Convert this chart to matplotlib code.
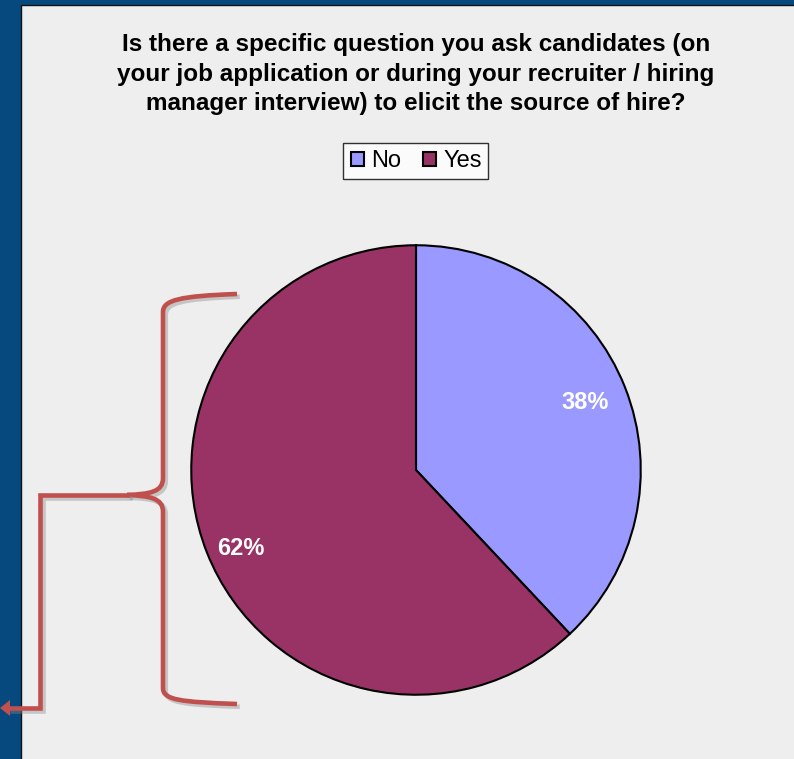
import numpy as np
import matplotlib.pyplot as plt
from matplotlib.patches import Patch, Rectangle, Polygon, PathPatch
from matplotlib.path import Path
import matplotlib.patheffects as pe

plt.rcParams['font.family'] = ['Liberation Sans', 'DejaVu Sans']

labels = ['No', 'Yes']
shares = [38, 62]
colors = ['#9999FF', '#993366']
title = ('Is there a specific question you ask candidates (on\n'
         'your job application or during your recruiter / hiring\n'
         'manager interview) to elicit the source of hire?')

W, H = 794, 759
fig = plt.figure(figsize=(W / 100, H / 100), dpi=100)
fig.patch.set_facecolor('#06497F')

# background layer in pixel coordinates
bg = fig.add_axes([0, 0, 1, 1])
bg.set_xlim(0, W)
bg.set_ylim(H, 0)
bg.axis('off')
bg.add_patch(Rectangle((21, 5), W, H, facecolor='#EEEEEE', edgecolor='#111111', linewidth=1))

bg.text(416, 74, title, ha='center', va='center', fontsize=17.5, fontweight='bold',
        linespacing=1.34, color='black')

# bracket pointing at the pie
red = '#C0504D'
shadow = [pe.SimpleLineShadow(offset=(2, -2), shadow_color='#888888', alpha=0.4), pe.Normal()]
verts = [(237, 294), (180, 296), (163, 300), (163, 312),
         (163, 478),
         (163, 492), (150, 494), (127, 495),
         (150, 496), (163, 498), (163, 512),
         (163, 688),
         (163, 700), (180, 702), (237, 704)]
codes = [Path.MOVETO, Path.CURVE4, Path.CURVE4, Path.CURVE4,
         Path.LINETO,
         Path.CURVE4, Path.CURVE4, Path.CURVE4,
         Path.CURVE4, Path.CURVE4, Path.CURVE4,
         Path.LINETO,
         Path.CURVE4, Path.CURVE4, Path.CURVE4]
bg.add_patch(PathPatch(Path(verts, codes), facecolor='none', edgecolor=red, linewidth=3.3,
                       capstyle='butt', path_effects=shadow))
bg.plot([127, 40, 40, 9], [495, 495, 708, 708], color=red, linewidth=3.3,
        solid_joinstyle='miter', path_effects=shadow)
bg.add_patch(Polygon([(0, 708), (10, 700), (10, 716)], closed=True, facecolor=red, edgecolor='none'))

# pie
ax = fig.add_axes([189 / W, (H - 697) / H, 454 / W, 454 / H])
wedges, _, autotexts = ax.pie(shares, colors=colors, startangle=90, counterclock=False,
                              autopct='%d%%', pctdistance=0.8,
                              wedgeprops=dict(edgecolor='black', linewidth=1.5))
# label radii per slice
for w, t, r, dy in zip(wedges, autotexts, [0.81, 0.84], [0.0, -0.04]):
    ang = np.deg2rad((w.theta1 + w.theta2) / 2)
    t.set_position((r * np.cos(ang), r * np.sin(ang) + dy))
    t.set_color('white')
    t.set_fontsize(17)
    t.set_fontweight('bold')
ax.set_xlim(-1.01, 1.01)
ax.set_ylim(-1.01, 1.01)

handles = [Patch(facecolor=c, edgecolor='black', linewidth=1.5) for c in colors]
leg = fig.legend(handles, labels, loc='center', bbox_to_anchor=(415.5 / W, 1 - 161 / H),
                 ncol=2, fontsize=17, frameon=True, fancybox=False, handlelength=0.55,
                 handleheight=0.55, handletextpad=0.25, columnspacing=1.0, borderpad=0.3,
                 borderaxespad=0)
leg._legend_box.align = 'center'
leg.get_frame().set_edgecolor('black')
leg.get_frame().set_linewidth(1)
for t in leg.get_texts():
    t.set_x(2)

fig.savefig('out.png', dpi=100, facecolor=fig.get_facecolor())
